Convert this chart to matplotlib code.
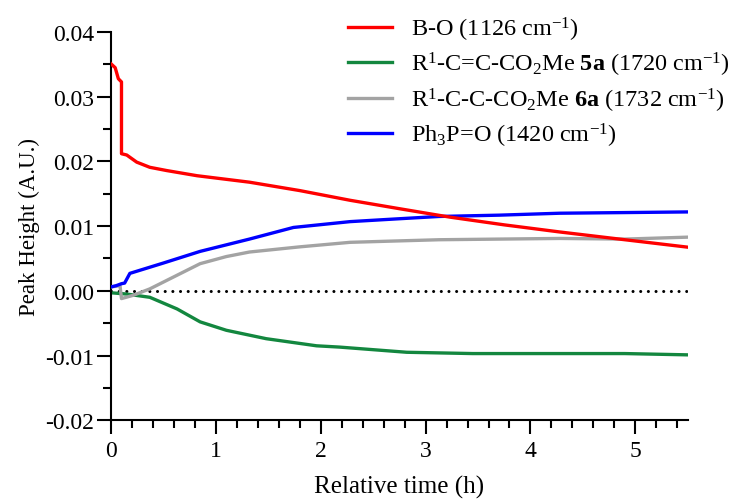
import matplotlib.pyplot as plt
from matplotlib.ticker import MultipleLocator, FormatStrFormatter

plt.rcParams['font.family'] = ['Liberation Serif', 'DejaVu Serif']
plt.rcParams['mathtext.fontset'] = 'custom'
plt.rcParams['mathtext.rm'] = 'Liberation Serif'
plt.rcParams['mathtext.bf'] = 'Liberation Serif:bold'
plt.rcParams['mathtext.it'] = 'Liberation Serif:italic'
plt.rcParams['axes.unicode_minus'] = False

# B-O (1126 cm-1)
red_t = [0, 0.04, 0.07, 0.10, 0.10, 0.15, 0.245, 0.37, 0.53, 0.82, 1.32, 1.8, 2.28,
         2.75, 3.23, 3.75, 4.28, 4.9, 5.5]
red_v = [0.0351, 0.0345, 0.0328, 0.0323, 0.0212, 0.0210, 0.0199, 0.0191, 0.0186, 0.0178,
         0.0168, 0.0155, 0.0140, 0.0127, 0.0114, 0.0102, 0.0091, 0.0079, 0.00675]

# R1-C=C-CO2Me 5a (1720 cm-1)
green_t = [0, 0.15, 0.37, 0.63, 0.85, 1.10, 1.48, 1.96, 2.18, 2.82, 3.45, 4.28, 4.9, 5.5]
green_v = [-0.0003, -0.0005, -0.0010, -0.0028, -0.0048, -0.0061, -0.0074, -0.0085,
           -0.0087, -0.0095, -0.0097, -0.0097, -0.0097, -0.0099]

# R1-C-C-CO2Me 6a (1732 cm-1)
grey_t = [0, 0.086, 0.10, 0.21, 0.37, 0.53, 0.85, 1.1, 1.32, 1.8, 2.28, 2.7, 3.13, 3.7,
          4.28, 4.9, 5.5]
grey_v = [0.0006, 0.0008, -0.0012, -0.0007, 0.0003, 0.0016, 0.0042, 0.0053, 0.0060,
          0.0068, 0.0075, 0.0077, 0.0079, 0.0080, 0.0081, 0.0080, 0.0083]

# Ph3P=O (1420 cm-1)
blue_t = [0, 0.05, 0.10, 0.13, 0.18, 0.5, 0.85, 1.32, 1.74, 2.28, 2.7, 3.13, 3.7, 4.28,
          4.9, 5.5]
blue_v = [0.0006, 0.0008, 0.0011, 0.0012, 0.0027, 0.0043, 0.0061, 0.0080, 0.0098, 0.0107,
          0.0111, 0.0115, 0.0117, 0.0120, 0.0121, 0.0122]

labels = [r'B-O (1126 cm$^{-1}$)',
          r'R$^1$-C=C-CO$_2$Me $\mathbf{5a}$ (1720 cm$^{-1}$)',
          r'R$^1$-C-C-CO$_2$Me $\mathbf{6a}$ (1732 cm$^{-1}$)',
          r'Ph$_3$P=O (1420 cm$^{-1}$)']

fig = plt.figure(figsize=(7.5, 5.02), dpi=100)
ax = fig.add_axes([0.148, 0.161, 0.769, 0.773])

ax.plot([0, 5.5], [0, 0], color='black', lw=2.2, linestyle=(0, (0.01, 2.5)),
        dash_capstyle='round', zorder=1)

lw = 2.4
l_green, = ax.plot(green_t, green_v, color='#13873f', lw=lw, zorder=2)
l_grey, = ax.plot(grey_t, grey_v, color='#a3a3a3', lw=lw, zorder=3)
l_blue, = ax.plot(blue_t, blue_v, color='#0000ff', lw=lw, zorder=4)
l_red, = ax.plot(red_t, red_v, color='#ff0000', lw=lw, zorder=5)

ax.set_xlim(0, 5.5)
ax.set_ylim(-0.02, 0.04)
ax.xaxis.set_major_locator(MultipleLocator(1))
ax.xaxis.set_minor_locator(MultipleLocator(0.2))
ax.yaxis.set_major_locator(MultipleLocator(0.01))
ax.yaxis.set_minor_locator(MultipleLocator(0.005))
ax.yaxis.set_major_formatter(FormatStrFormatter('%.2f'))

for s in ['top', 'right']:
    ax.spines[s].set_visible(False)
for s in ['left', 'bottom']:
    ax.spines[s].set_linewidth(1.5)

ax.tick_params(which='major', length=10, width=1.5, labelsize=17)
ax.tick_params(axis='y', which='major', pad=2)
ax.tick_params(axis='x', which='major', pad=4)
ax.tick_params(which='minor', length=5.5, width=1.5)

ax.set_xlabel('Relative time (h)', fontsize=18, labelpad=10)
ax.set_ylabel('Peak Height (A.U.)', fontsize=16.5, labelpad=4)

ax.legend([l_red, l_green, l_grey, l_blue], labels, loc='upper left',
          bbox_to_anchor=(0.435, 1.012), bbox_transform=fig.transFigure,
          frameon=False, fontsize=17.5, handlelength=1.8, handletextpad=0.8,
          labelspacing=0.3)

fig.savefig('out.png', dpi=100)
